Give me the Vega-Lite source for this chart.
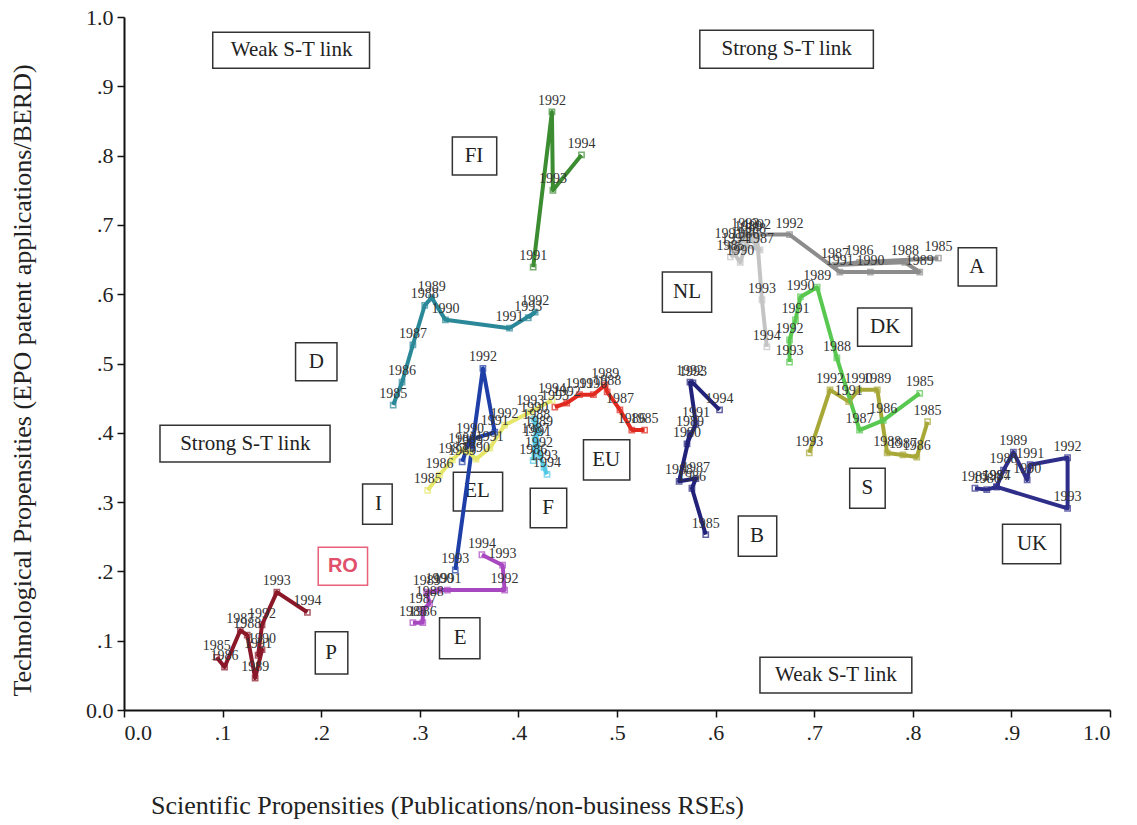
{
  "$schema": "https://vega.github.io/schema/vega-lite/v6.json",
  "width": 986,
  "height": 693,
  "autosize": {"type": "none"},
  "padding": {"left": 124, "top": 17, "right": 27, "bottom": 115},
  "background": "white",
  "config": {"view": {"stroke": null}, "font": "Liberation Serif"},
  "datasets": {
    "traj": [
      {"c": "FI", "yr": 1991, "x": 0.415, "y": 0.639},
      {"c": "FI", "yr": 1992, "x": 0.434, "y": 0.863},
      {"c": "FI", "yr": 1993, "x": 0.435, "y": 0.750},
      {"c": "FI", "yr": 1994, "x": 0.464, "y": 0.801},
      {"c": "D", "yr": 1985, "x": 0.273, "y": 0.440},
      {"c": "D", "yr": 1986, "x": 0.282, "y": 0.473},
      {"c": "D", "yr": 1987, "x": 0.293, "y": 0.527},
      {"c": "D", "yr": 1988, "x": 0.305, "y": 0.584},
      {"c": "D", "yr": 1989, "x": 0.312, "y": 0.595},
      {"c": "D", "yr": 1990, "x": 0.326, "y": 0.563},
      {"c": "D", "yr": 1991, "x": 0.391, "y": 0.551},
      {"c": "D", "yr": 1992, "x": 0.417, "y": 0.574},
      {"c": "D", "yr": 1993, "x": 0.410, "y": 0.566},
      {"c": "EL", "yr": 1989, "x": 0.343, "y": 0.358},
      {"c": "EL", "yr": 1990, "x": 0.351, "y": 0.390},
      {"c": "EL", "yr": 1991, "x": 0.376, "y": 0.401},
      {"c": "EL", "yr": 1992, "x": 0.364, "y": 0.493},
      {"c": "EL", "yr": 1993, "x": 0.336, "y": 0.202},
      {"c": "I", "yr": 1985, "x": 0.308, "y": 0.317},
      {"c": "I", "yr": 1986, "x": 0.320, "y": 0.339},
      {"c": "I", "yr": 1987, "x": 0.333, "y": 0.361},
      {"c": "I", "yr": 1988, "x": 0.343, "y": 0.375},
      {"c": "I", "yr": 1989, "x": 0.350, "y": 0.372},
      {"c": "I", "yr": 1990, "x": 0.357, "y": 0.362},
      {"c": "I", "yr": 1991, "x": 0.371, "y": 0.378},
      {"c": "I", "yr": 1992, "x": 0.386, "y": 0.411},
      {"c": "I", "yr": 1993, "x": 0.412, "y": 0.430},
      {"c": "I", "yr": 1994, "x": 0.434, "y": 0.447},
      {"c": "F", "yr": 1986, "x": 0.415, "y": 0.360},
      {"c": "F", "yr": 1987, "x": 0.417, "y": 0.390},
      {"c": "F", "yr": 1988, "x": 0.418, "y": 0.410},
      {"c": "F", "yr": 1989, "x": 0.421, "y": 0.400},
      {"c": "F", "yr": 1990, "x": 0.416, "y": 0.420},
      {"c": "F", "yr": 1991, "x": 0.419, "y": 0.385},
      {"c": "F", "yr": 1992, "x": 0.421, "y": 0.370},
      {"c": "F", "yr": 1993, "x": 0.426, "y": 0.350},
      {"c": "F", "yr": 1994, "x": 0.429, "y": 0.340},
      {"c": "EU", "yr": 1985, "x": 0.528, "y": 0.404},
      {"c": "EU", "yr": 1986, "x": 0.515, "y": 0.404},
      {"c": "EU", "yr": 1987, "x": 0.503, "y": 0.433},
      {"c": "EU", "yr": 1988, "x": 0.490, "y": 0.459},
      {"c": "EU", "yr": 1989, "x": 0.488, "y": 0.469},
      {"c": "EU", "yr": 1990, "x": 0.476, "y": 0.455},
      {"c": "EU", "yr": 1991, "x": 0.462, "y": 0.455},
      {"c": "EU", "yr": 1992, "x": 0.449, "y": 0.443},
      {"c": "EU", "yr": 1993, "x": 0.437, "y": 0.437},
      {"c": "B", "yr": 1985, "x": 0.590, "y": 0.253},
      {"c": "B", "yr": 1986, "x": 0.576, "y": 0.320},
      {"c": "B", "yr": 1987, "x": 0.580, "y": 0.334},
      {"c": "B", "yr": 1988, "x": 0.563, "y": 0.330},
      {"c": "B", "yr": 1989, "x": 0.574, "y": 0.399},
      {"c": "B", "yr": 1990, "x": 0.571, "y": 0.384},
      {"c": "B", "yr": 1991, "x": 0.580, "y": 0.413},
      {"c": "B", "yr": 1992, "x": 0.574, "y": 0.473},
      {"c": "B", "yr": 1993, "x": 0.577, "y": 0.472},
      {"c": "B", "yr": 1994, "x": 0.604, "y": 0.433},
      {"c": "S", "yr": 1985, "x": 0.815, "y": 0.416},
      {"c": "S", "yr": 1986, "x": 0.804, "y": 0.365},
      {"c": "S", "yr": 1987, "x": 0.790, "y": 0.368},
      {"c": "S", "yr": 1988, "x": 0.774, "y": 0.371},
      {"c": "S", "yr": 1989, "x": 0.764, "y": 0.462},
      {"c": "S", "yr": 1990, "x": 0.745, "y": 0.462},
      {"c": "S", "yr": 1991, "x": 0.735, "y": 0.445},
      {"c": "S", "yr": 1992, "x": 0.716, "y": 0.462},
      {"c": "S", "yr": 1993, "x": 0.695, "y": 0.371},
      {"c": "DK", "yr": 1985, "x": 0.807, "y": 0.457},
      {"c": "DK", "yr": 1986, "x": 0.770, "y": 0.418},
      {"c": "DK", "yr": 1987, "x": 0.746, "y": 0.404},
      {"c": "DK", "yr": 1988, "x": 0.723, "y": 0.508},
      {"c": "DK", "yr": 1989, "x": 0.703, "y": 0.610},
      {"c": "DK", "yr": 1990, "x": 0.686, "y": 0.596},
      {"c": "DK", "yr": 1991, "x": 0.681, "y": 0.563},
      {"c": "DK", "yr": 1992, "x": 0.675, "y": 0.534},
      {"c": "DK", "yr": 1993, "x": 0.675, "y": 0.502},
      {"c": "A", "yr": 1985, "x": 0.826, "y": 0.652},
      {"c": "A", "yr": 1986, "x": 0.746, "y": 0.646},
      {"c": "A", "yr": 1987, "x": 0.721, "y": 0.642},
      {"c": "A", "yr": 1988, "x": 0.792, "y": 0.646},
      {"c": "A", "yr": 1989, "x": 0.807, "y": 0.632},
      {"c": "A", "yr": 1990, "x": 0.757, "y": 0.632},
      {"c": "A", "yr": 1991, "x": 0.726, "y": 0.632},
      {"c": "A", "yr": 1992, "x": 0.675, "y": 0.686},
      {"c": "A", "yr": 1993, "x": 0.630, "y": 0.686},
      {"c": "A", "yr": 1994, "x": 0.620, "y": 0.664},
      {"c": "NL", "yr": 1985, "x": 0.615, "y": 0.654},
      {"c": "NL", "yr": 1986, "x": 0.630, "y": 0.671},
      {"c": "NL", "yr": 1987, "x": 0.645, "y": 0.664},
      {"c": "NL", "yr": 1988, "x": 0.637, "y": 0.678},
      {"c": "NL", "yr": 1989, "x": 0.633, "y": 0.681},
      {"c": "NL", "yr": 1990, "x": 0.625, "y": 0.646},
      {"c": "NL", "yr": 1991, "x": 0.613, "y": 0.671},
      {"c": "NL", "yr": 1992, "x": 0.642, "y": 0.684},
      {"c": "NL", "yr": 1993, "x": 0.647, "y": 0.592},
      {"c": "NL", "yr": 1994, "x": 0.652, "y": 0.524},
      {"c": "UK", "yr": 1985, "x": 0.863, "y": 0.320},
      {"c": "UK", "yr": 1986, "x": 0.875, "y": 0.318},
      {"c": "UK", "yr": 1987, "x": 0.885, "y": 0.322},
      {"c": "UK", "yr": 1988, "x": 0.892, "y": 0.346},
      {"c": "UK", "yr": 1989, "x": 0.902, "y": 0.372},
      {"c": "UK", "yr": 1990, "x": 0.916, "y": 0.332},
      {"c": "UK", "yr": 1991, "x": 0.919, "y": 0.354},
      {"c": "UK", "yr": 1992, "x": 0.957, "y": 0.364},
      {"c": "UK", "yr": 1993, "x": 0.957, "y": 0.291},
      {"c": "UK", "yr": 1994, "x": 0.885, "y": 0.322},
      {"c": "E", "yr": 1985, "x": 0.293, "y": 0.126},
      {"c": "E", "yr": 1986, "x": 0.303, "y": 0.126},
      {"c": "E", "yr": 1987, "x": 0.303, "y": 0.144},
      {"c": "E", "yr": 1988, "x": 0.310, "y": 0.154},
      {"c": "E", "yr": 1989, "x": 0.307, "y": 0.170},
      {"c": "E", "yr": 1990, "x": 0.320, "y": 0.173},
      {"c": "E", "yr": 1991, "x": 0.328, "y": 0.173},
      {"c": "E", "yr": 1992, "x": 0.386, "y": 0.173},
      {"c": "E", "yr": 1993, "x": 0.384, "y": 0.209},
      {"c": "E", "yr": 1994, "x": 0.363, "y": 0.224},
      {"c": "P", "yr": 1985, "x": 0.094, "y": 0.076},
      {"c": "P", "yr": 1986, "x": 0.102, "y": 0.062},
      {"c": "P", "yr": 1987, "x": 0.118, "y": 0.115},
      {"c": "P", "yr": 1988, "x": 0.125, "y": 0.108},
      {"c": "P", "yr": 1989, "x": 0.133, "y": 0.046},
      {"c": "P", "yr": 1990, "x": 0.140, "y": 0.087},
      {"c": "P", "yr": 1991, "x": 0.136, "y": 0.079},
      {"c": "P", "yr": 1992, "x": 0.140, "y": 0.123},
      {"c": "P", "yr": 1993, "x": 0.155, "y": 0.170},
      {"c": "P", "yr": 1994, "x": 0.186, "y": 0.141}
    ],
    "boxes": [
      {"t": "Weak S-T link", "k": "n", "x": 0.170, "y": 0.952, "x1": 0.090, "x2": 0.249, "y1": 0.926, "y2": 0.978},
      {"t": "Strong S-T link", "k": "n", "x": 0.672, "y": 0.954, "x1": 0.584, "x2": 0.760, "y1": 0.926, "y2": 0.981},
      {"t": "Strong S-T link", "k": "n", "x": 0.123, "y": 0.384, "x1": 0.0365, "x2": 0.209, "y1": 0.358, "y2": 0.411},
      {"t": "Weak S-T link", "k": "n", "x": 0.722, "y": 0.0505, "x1": 0.645, "x2": 0.799, "y1": 0.0245, "y2": 0.076},
      {"t": "FI", "k": "n", "x": 0.355, "y": 0.800, "x1": 0.333, "x2": 0.378, "y1": 0.772, "y2": 0.827},
      {"t": "NL", "k": "n", "x": 0.571, "y": 0.603, "x1": 0.546, "x2": 0.596, "y1": 0.574, "y2": 0.632},
      {"t": "A", "k": "n", "x": 0.865, "y": 0.639, "x1": 0.846, "x2": 0.885, "y1": 0.612, "y2": 0.667},
      {"t": "DK", "k": "n", "x": 0.772, "y": 0.553, "x1": 0.744, "x2": 0.799, "y1": 0.525, "y2": 0.580},
      {"t": "D", "k": "n", "x": 0.195, "y": 0.502, "x1": 0.174, "x2": 0.216, "y1": 0.475, "y2": 0.530},
      {"t": "EU", "k": "n", "x": 0.489, "y": 0.361, "x1": 0.466, "x2": 0.513, "y1": 0.332, "y2": 0.390},
      {"t": "I", "k": "n", "x": 0.258, "y": 0.297, "x1": 0.242, "x2": 0.272, "y1": 0.268, "y2": 0.326},
      {"t": "EL", "k": "n", "x": 0.358, "y": 0.316, "x1": 0.334, "x2": 0.384, "y1": 0.287, "y2": 0.343},
      {"t": "F", "k": "n", "x": 0.430, "y": 0.291, "x1": 0.412, "x2": 0.449, "y1": 0.263, "y2": 0.320},
      {"t": "S", "k": "n", "x": 0.754, "y": 0.320, "x1": 0.736, "x2": 0.772, "y1": 0.291, "y2": 0.349},
      {"t": "B", "k": "n", "x": 0.642, "y": 0.251, "x1": 0.623, "x2": 0.662, "y1": 0.222, "y2": 0.280},
      {"t": "UK", "k": "n", "x": 0.921, "y": 0.240, "x1": 0.891, "x2": 0.950, "y1": 0.211, "y2": 0.268},
      {"t": "RO", "k": "ro", "x": 0.222, "y": 0.208, "x1": 0.197, "x2": 0.247, "y1": 0.180, "y2": 0.235},
      {"t": "P", "k": "n", "x": 0.210, "y": 0.082, "x1": 0.194, "x2": 0.227, "y1": 0.052, "y2": 0.113},
      {"t": "E", "k": "n", "x": 0.341, "y": 0.104, "x1": 0.320, "x2": 0.361, "y1": 0.074, "y2": 0.133}
    ]
  },
  "encoding": {
    "x": {
      "field": "x", "type": "quantitative",
      "scale": {"domain": [0, 1], "nice": false, "zero": false},
      "axis": {
        "values": [0, 0.1, 0.2, 0.3, 0.4, 0.5, 0.6, 0.7, 0.8, 0.9, 1],
        "labelExpr": "datum.value == 0 ? '0.0' : datum.value == 1 ? '1.0' : '.' + round(datum.value * 10)",
        "grid": false,
        "labelFont": "Liberation Serif", "labelFontSize": 22, "labelColor": "#222", "labelPadding": 5,
        "domainColor": "#111", "domainWidth": 2, "tickColor": "#111", "tickWidth": 1.5, "tickSize": 7,
        "title": "Scientific Propensities (Publications/non-business RSEs)",
        "titleFont": "Liberation Serif", "titleFontSize": 26, "titleFontWeight": "normal", "titleColor": "#222",
        "titleX": 323, "titleY": 95, "titleAlign": "center", "titleBaseline": "middle"
      }
    },
    "y": {
      "field": "y", "type": "quantitative",
      "scale": {"domain": [0, 1], "nice": false, "zero": false},
      "axis": {
        "values": [0, 0.1, 0.2, 0.3, 0.4, 0.5, 0.6, 0.7, 0.8, 0.9, 1],
        "labelExpr": "datum.value == 0 ? '0.0' : datum.value == 1 ? '1.0' : '.' + round(datum.value * 10)",
        "grid": false,
        "labelFont": "Liberation Serif", "labelFontSize": 22, "labelColor": "#222", "labelPadding": 4,
        "domainColor": "#111", "domainWidth": 2, "tickColor": "#111", "tickWidth": 1.5, "tickSize": 7,
        "title": "Technological Propensities (EPO patent applications/BERD)",
        "titleFont": "Liberation Serif", "titleFontSize": 26, "titleFontWeight": "normal", "titleColor": "#222",
        "titleX": -102, "titleY": 363, "titleAngle": -90, "titleAlign": "center", "titleBaseline": "middle"
      }
    }
  },
  "layer": [
    {
      "data": {"name": "boxes"},
      "transform": [{"filter": "datum.k == 'n'"}],
      "mark": {"type": "rect", "fill": "white", "stroke": "#333", "strokeWidth": 1.5},
      "encoding": {"x": {"field": "x1", "type": "quantitative"}, "x2": {"field": "x2"}, "y": {"field": "y1", "type": "quantitative"}, "y2": {"field": "y2"}}
    },
    {
      "data": {"name": "boxes"},
      "transform": [{"filter": "datum.k == 'ro'"}],
      "mark": {"type": "rect", "fill": "white", "stroke": "#e8607a", "strokeWidth": 1.5},
      "encoding": {"x": {"field": "x1", "type": "quantitative"}, "x2": {"field": "x2"}, "y": {"field": "y1", "type": "quantitative"}, "y2": {"field": "y2"}}
    },
    {
      "data": {"name": "boxes"},
      "transform": [{"filter": "datum.k == 'n'"}],
      "mark": {"type": "text", "font": "Liberation Serif", "fontSize": 21, "color": "#222", "baseline": "middle", "align": "center"},
      "encoding": {"text": {"field": "t"}}
    },
    {
      "data": {"name": "boxes"},
      "transform": [{"filter": "datum.k == 'ro'"}],
      "mark": {"type": "text", "font": "Liberation Sans", "fontWeight": "bold", "fontSize": 20, "color": "#e0506a", "baseline": "middle", "align": "center"},
      "encoding": {"text": {"field": "t"}}
    },
    {
      "data": {"name": "traj"},
      "mark": {"type": "line", "strokeWidth": 4, "strokeJoin": "round"},
      "encoding": {
        "color": {"field": "c", "type": "nominal", "legend": null,
          "scale": {"domain": ["FI", "D", "EL", "I", "F", "EU", "B", "S", "DK", "A", "NL", "UK", "E", "P"],
                    "range": ["#3c8c32", "#2a8898", "#1f3fa8", "#e6e66a", "#50c8e6", "#e02a20", "#22227a", "#a8a838", "#58c850", "#8c8c8c", "#c4c4c4", "#2e2e8a", "#a848c0", "#8a1828"]}},
        "order": {"field": "yr", "type": "quantitative"}
      }
    },
    {
      "data": {"name": "traj"},
      "mark": {"type": "point", "shape": "square", "filled": false, "size": 28, "strokeWidth": 1.5},
      "encoding": {"color": {"field": "c", "type": "nominal", "legend": null}}
    },
    {
      "mark": {"type": "rule", "color": "#111", "strokeWidth": 4.5, "strokeDash": [16, 9]},
      "encoding": {"x": {"datum": 0.488}}
    },
    {
      "mark": {"type": "rule", "color": "#111", "strokeWidth": 4.5, "strokeDash": [16, 9]},
      "encoding": {"y": {"datum": 0.44}}
    },
    {
      "data": {"name": "traj"},
      "mark": {"type": "text", "font": "Liberation Serif", "fontSize": 14, "color": "#333", "dy": -11, "align": "center"},
      "encoding": {"text": {"field": "yr", "type": "nominal"}}
    }
  ]
}
